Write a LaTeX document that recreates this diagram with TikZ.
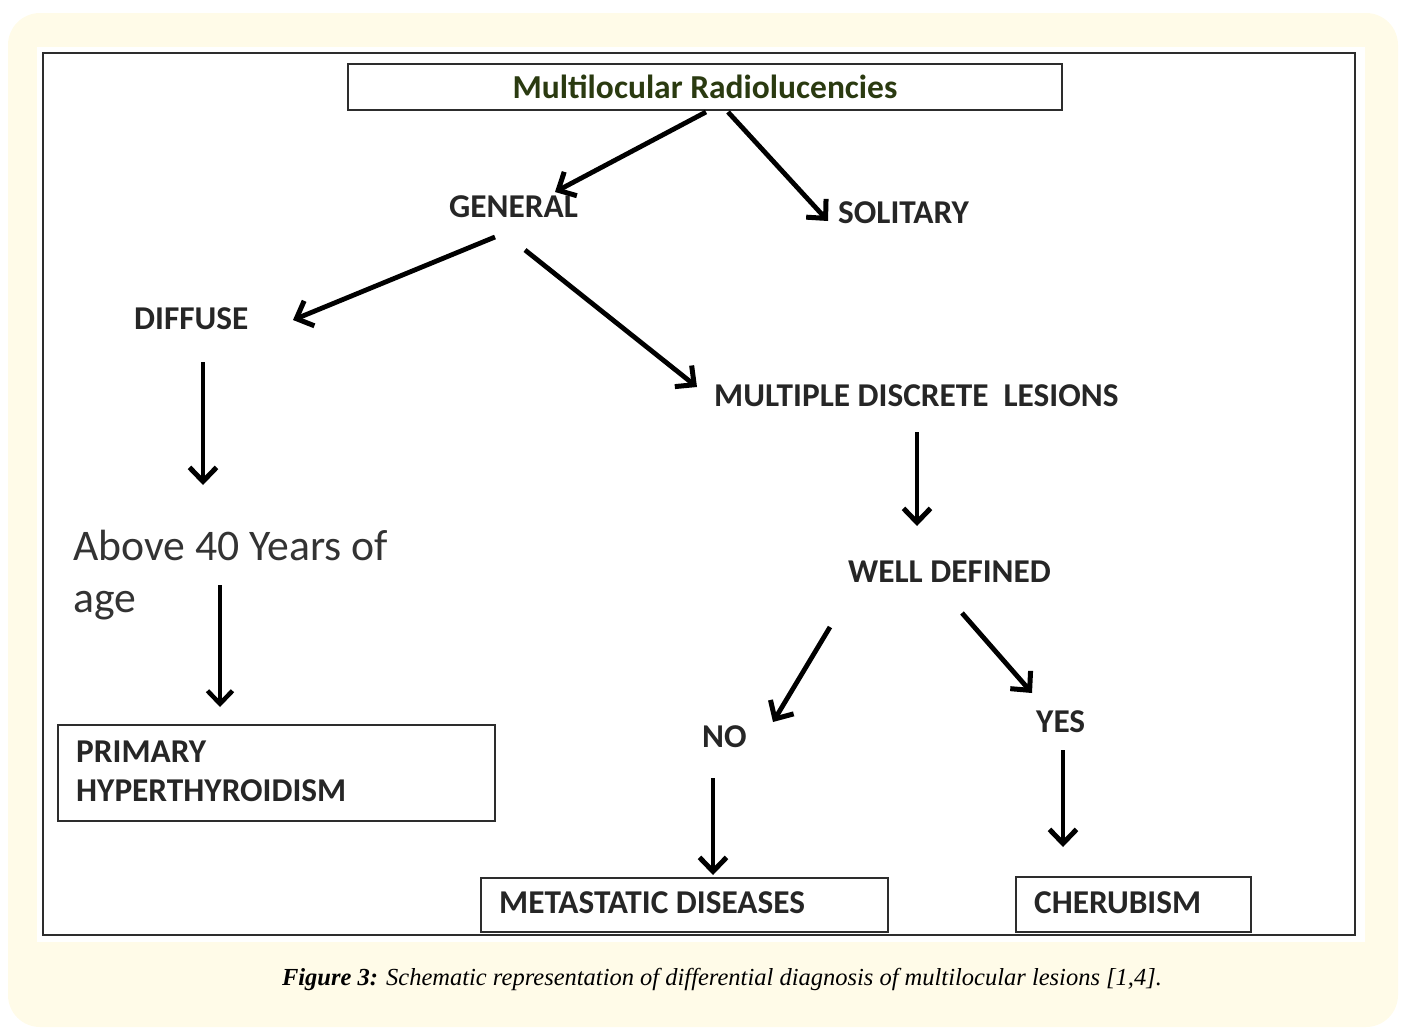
\documentclass[tikz,border=0pt]{standalone}
\usepackage{fontspec}
\setmainfont{Carlito}
\newfontfamily\capfont{Liberation Serif}
\usetikzlibrary{arrows.meta,calc}
\definecolor{cream}{RGB}{255,251,232}
\definecolor{titlegreen}{RGB}{42,58,16}
\definecolor{framegray}{RGB}{45,45,45}
\begin{document}
\begin{tikzpicture}[x=1pt,y=-1pt,
  lbl/.style={anchor=base west,inner sep=0pt,font=\fontsize{33.3}{39}\selectfont\bfseries,text=black!85},
  boxnode/.style={draw=framegray,line width=2pt,anchor=north west,inner sep=0pt},
  arr/.style={line width=4.8pt,-{Straight Barb[length=14pt,width=27pt,line width=5pt]}},
  thinarr/.style={line width=4pt,-{Straight Barb[length=13pt,width=25pt,line width=4.5pt]}}]
\useasboundingbox (0,0) rectangle (1403,1029);
% background
\fill[cream,rounded corners=32pt] (8,13) rectangle (1398,1027);
\fill[white] (37,47) rectangle (1365,942);
\draw[framegray,line width=2.5pt] (43,53) rectangle (1355,935);
% nodes
\node[draw=framegray,line width=2pt,minimum width=714pt,minimum height=46pt,inner sep=0pt,
      font=\fontsize{33.5}{38}\selectfont\bfseries,text=titlegreen] (top) at (705,87) {Multilocular Radiolucencies};
\node[lbl] (general) at (449,217) {GENERAL};
\node[lbl] (solitary) at (838,223) {SOLITARY};
\node[lbl] (diffuse) at (134,329) {DIFFUSE};
\node[lbl] (multiple) at (714,406) {MULTIPLE DISCRETE\ \ LESIONS};
\node[anchor=base west,inner sep=0pt,align=left,font=\fontsize{43.7}{52}\selectfont,text=black!80] (above) at (73,612) {Above 40 Years of\\age};
\node[lbl] (well) at (848,582) {WELL DEFINED};
\node[lbl] (no) at (702,747) {NO};
\node[lbl] (yes) at (1036,732) {YES};
\node[boxnode,minimum width=437pt,minimum height=96pt] (primary) at (57,724) {};
\node[lbl,align=left,font=\fontsize{33.3}{39}\selectfont\bfseries] (primarytxt) at (76,801) {PRIMARY\\HYPERTHYROIDISM};
\node[boxnode,minimum width=407pt,minimum height=54pt] (meta) at (480,877) {};
\node[lbl] (metatxt) at (499,913) {METASTATIC DISEASES};
\node[boxnode,minimum width=235pt,minimum height=55pt] (cher) at (1015,876) {};
\node[lbl] (chertxt) at (1034,913) {CHERUBISM};
% caption
\node[anchor=base,inner sep=0pt,font=\capfont\fontsize{24.5}{28}\selectfont\itshape] (caption) at (722,985)
  {\textbf{Figure 3:} Schematic representation of differential diagnosis of multilocular lesions [1,4].};
% arrows
\draw[arr] ($(top.south)+(1,1)$) -- ($(general.base west)+(106,-25)$);
\draw[arr] ($(top.south)+(23,1)$) -- ($(solitary.base west)+(-10,-2)$);
\draw[arr] ($(general.base west)+(46,20)$) -- ($(diffuse.base west)+(159,-9)$);
\draw[arr] ($(general.base west)+(76,33)$) -- ($(multiple.base west)+(-17,-19)$);
\draw[arr] ($(diffuse.base west)+(69,33)$) -- ($(above.base west)+(130,-127)$);
\draw[thinarr] ($(above.base west)+(147,-27)$) -- ($(primary.north west)+(163,-17)$);
\draw[arr] ($(multiple.base west)+(203,26)$) -- ($(well.base west)+(69,-56)$);
\draw[arr] ($(well.base west)+(-18,45)$) -- ($(no.base west)+(71,-25)$);
\draw[arr] ($(well.base west)+(114,31)$) -- ($(yes.base west)+(-4,-39)$);
\draw[arr] ($(no.base west)+(11,31)$) -- ($(meta.north west)+(233,-2)$);
\draw[arr] ($(yes.base west)+(27,18)$) -- ($(cher.north west)+(48,-29)$);
\end{tikzpicture}
\end{document}
